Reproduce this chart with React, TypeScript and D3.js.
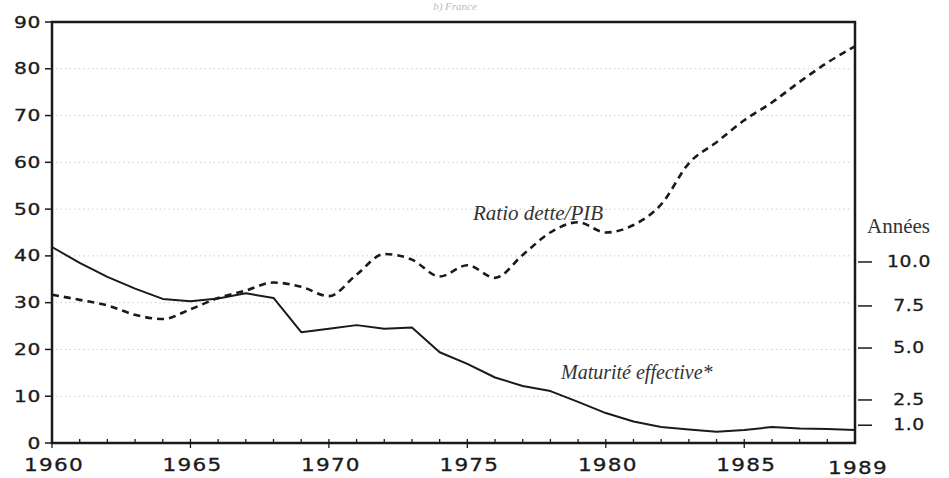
import React from 'react';
import * as d3 from 'd3';

// years 1960..1989
const years = d3.range(1960, 1990);

// Ratio dette/PIB (%), dashed
const debtRatio = [
  31.7, 30.6, 29.4, 27.4, 26.5, 28.6, 31.0, 32.6, 34.3, 33.4,
  31.4, 36.0, 40.4, 39.2, 35.6, 38.0, 35.3, 40.2, 45.0, 47.2,
  45.0, 46.6, 51.0, 59.8, 64.3, 69.0, 72.8, 77.2, 81.3, 84.8,
];

// Maturité effective, solid (read on the left scale)
const maturity = [
  41.9, 38.5, 35.5, 33.0, 30.8, 30.3, 30.9, 32.0, 31.0, 23.7,
  24.4, 25.2, 24.4, 24.7, 19.4, 16.9, 14.0, 12.2, 11.1, 8.8,
  6.4, 4.6, 3.4, 2.9, 2.4, 2.8, 3.4, 3.1, 3.0, 2.8,
];

const leftTicks = [0, 10, 20, 30, 40, 50, 60, 70, 80, 90];
const gridTicks = [10, 20, 30, 40, 50, 60, 70, 80];
const bottomTicks = [1960, 1965, 1970, 1975, 1980, 1985, 1989];

// right axis "Années" and where each tick sits on the left scale
const rightTicks = [1.0, 2.5, 5.0, 7.5, 10.0];
const rightTickLeftEquiv = [3.8, 9.2, 20.3, 29.3, 38.7];

const W = 949;
const H = 478;
const margin = { left: 52, right: 94, top: 22, bottom: 35 };

const ink = '#1a1a1a';
const numFont = '"DejaVu Sans", sans-serif';
const serif = '"Liberation Serif", "DejaVu Serif", serif';

export default function App() {
  const x = d3.scaleLinear().domain([1960, 1989]).range([margin.left, W - margin.right]);
  const y = d3.scaleLinear().domain([0, 90]).range([H - margin.bottom, margin.top]);
  const yRight = d3
    .scaleLinear()
    .domain(rightTicks)
    .range(rightTickLeftEquiv.map((v) => y(v)));

  const debtLine = d3
    .line<number>()
    .x((_, i) => x(years[i]))
    .y((d) => y(d))
    .curve(d3.curveMonotoneX);

  const matLine = d3
    .line<number>()
    .x((_, i) => x(years[i]))
    .y((d) => y(d));

  const x0 = x(1960);
  const x1 = x(1989);
  const y0 = y(0);
  const yTop = y(90);

  return (
    <svg
      width={W}
      height={H}
      style={{ position: 'absolute', left: 0, top: 0, background: '#fff' }}
    >
      {/* title (cropped in the scan) */}
      <text x={455} y={10} textAnchor="middle" fontFamily={serif} fontStyle="italic" fontSize={11} fill="#bbb">
        b) France
      </text>

      {/* grid */}
      {gridTicks.map((t) => (
        <line
          key={'g' + t}
          x1={x0 + 4}
          x2={x1 - 4}
          y1={y(t)}
          y2={y(t)}
          stroke="#cccccc"
          strokeWidth={1}
          strokeDasharray="1.5,3"
        />
      ))}

      {/* series */}
      <path d={matLine(maturity) || ''} fill="none" stroke={ink} strokeWidth={2} strokeLinejoin="round" />
      <path
        d={debtLine(debtRatio) || ''}
        fill="none"
        stroke={ink}
        strokeWidth={2.6}
        strokeDasharray="7,5"
      />

      {/* frame */}
      <rect x={x0} y={yTop} width={x1 - x0} height={y0 - yTop} fill="none" stroke={ink} strokeWidth={2.5} />

      {/* left axis */}
      {leftTicks.map((t) => (
        <g key={'l' + t}>
          <line x1={x0 - 7} x2={x0} y1={y(t)} y2={y(t)} stroke={ink} strokeWidth={1.5} />
          <g transform={`translate(${x0 - 11},${y(t) + 5.5}) scale(1.35,1)`}>
            <text textAnchor="end" fontFamily={numFont} fontSize={15} fill={ink} stroke={ink} strokeWidth={0.3} letterSpacing={0.5}>
              {t}
            </text>
          </g>
        </g>
      ))}

      {/* bottom minor / major ticks */}
      {years.map((yr) => (
        <line
          key={'m' + yr}
          x1={x(yr)}
          x2={x(yr)}
          y1={y0 - 4}
          y2={y0 + (yr % 5 === 0 ? 5 : 0)}
          stroke={ink}
          strokeWidth={1.3}
        />
      ))}
      {bottomTicks.map((t) => (
        <g key={'b' + t} transform={`translate(${x(t) + (t === 1989 ? 3 : 2)},${t === 1989 ? 474 : 471}) scale(1.2,1)`}>
          <text textAnchor="middle" fontFamily={numFont} fontSize={18} fill={ink} stroke={ink} strokeWidth={0.3} letterSpacing={1}>
            {t}
          </text>
        </g>
      ))}

      {/* right axis */}
      {rightTicks.map((t) => (
        <g key={'r' + t}>
          <line x1={x1 + 3} x2={x1 + 17} y1={yRight(t)} y2={yRight(t)} stroke={ink} strokeWidth={1.5} />
          <g transform={`translate(${x1 + 54},${yRight(t) + 5}) scale(1.25,1)`}>
            <text textAnchor="middle" fontFamily={numFont} fontSize={15} fill={ink} stroke={ink} strokeWidth={0.3} letterSpacing={0.5}>
              {t.toFixed(1)}
            </text>
          </g>
        </g>
      ))}
      <text x={x1 + 12} y={233} fontFamily={serif} fontSize={21} fill="#333">
        Années
      </text>

      {/* annotations */}
      <text x={473} y={220} fontFamily={serif} fontStyle="italic" fontSize={21} fill="#333">
        Ratio dette/PIB
      </text>
      <text x={561} y={379} fontFamily={serif} fontStyle="italic" fontSize={20} fill="#333">
        Maturité effective*
      </text>
    </svg>
  );
}
